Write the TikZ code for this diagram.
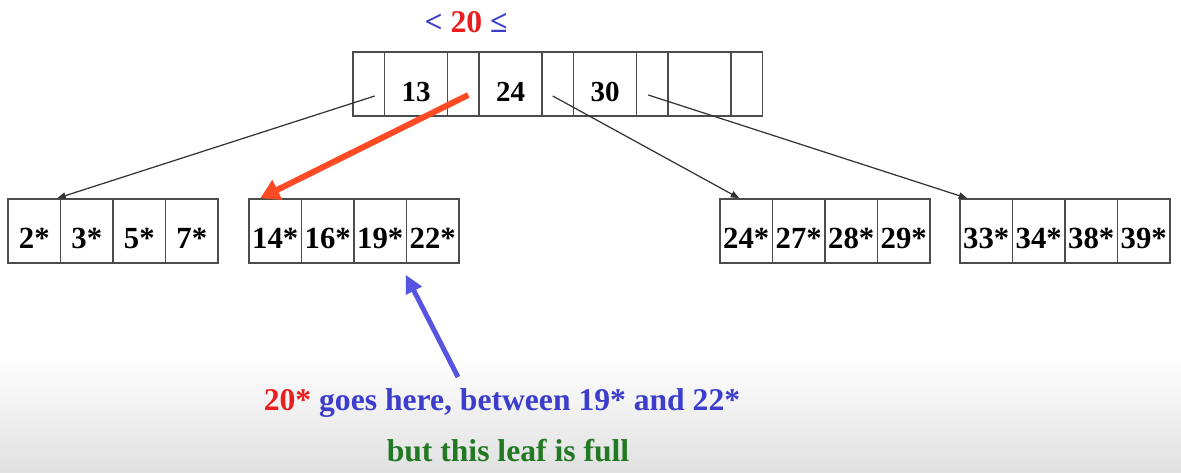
\documentclass[tikz,border=0pt]{standalone}
\usepackage{fontspec}
\setmainfont{Liberation Serif}
\definecolor{keyblue}{RGB}{60,60,205}
\definecolor{keyred}{RGB}{235,30,30}
\definecolor{keygreen}{RGB}{35,120,35}
\definecolor{insorange}{RGB}{255,75,35}
\definecolor{insblue}{RGB}{85,85,225}
\usetikzlibrary{arrows.meta, calc}

\begin{document}
\begin{tikzpicture}[
      x=0.02cm, y=-0.02cm,
      cell/.style={
          draw=black!70,
          line width=0.85pt,
          minimum height=1.28cm,
          inner sep=0pt,
          text height=0.72cm,
          text depth=0pt,
          font=\fontsize{16.5}{20}\selectfont\bfseries
        },
      ptrcell/.style={cell, minimum width=0.63cm},
      keycell/.style={cell, minimum width=1.26cm},
      leafcell/.style={cell, minimum width=1.05cm, font=\fontsize{17.5}{21}\selectfont\bfseries},
      ptr/.style={-{Triangle[length=0.17cm, width=0.13cm]}, black!80, line width=0.7pt},
      insert/.style={-{Triangle[length=0.38cm, width=0.42cm]}, insorange, line width=3.4pt},
      pointer/.style={-{Triangle[length=0.36cm, width=0.34cm]}, insblue, line width=2.8pt},
      msg/.style={font=\fontsize{18}{22}\selectfont\bfseries}
    ]
    \useasboundingbox (0,0) rectangle (1181,473);
    \fill[white] (0,0) rectangle (1181,473);
    \shade[top color=white, bottom color=black!12] (0,355) rectangle (1181,473);

    % root node
    \foreach \i in {0,...,4}
      \node[ptrcell] (rp\i) at ({368.75+94.5*\i},84) {};
    \foreach \t [count=\i] in {13,24,30,{}}
      \node[keycell] (rk\i) at ({321.5+94.5*\i},84) {\t};

    \node[msg] (range) at (466,22) {\textcolor{keyblue}{<} \textcolor{keyred}{20} \textcolor{keyblue}{≤}};

    % leaves
    \foreach \nm/\lx/\keys in {la/8/{2*,3*,5*,7*}, lb/249/{14*,16*,19*,22*},
                               lc/720/{24*,27*,28*,29*}, ld/960/{33*,34*,38*,39*}}
      \foreach \k [count=\i] in \keys
        \node[leafcell] (\nm\i) at ({\lx+52.5*(\i-0.5)},231) {\k};

    \draw[ptr] ($(rp0.center)+(6,12)$) -- ($(la1.north east)+(-4,0)$);
    \draw[insert] ($(rp1.center)+(5,11)$) -- ($(lb1.north west)+(12,0)$);
    \draw[ptr] ($(rp2.center)+(-5,12)$) -- ($(lc1.north west)+(20,0)$);
    \draw[ptr] ($(rp3.center)+(-4,11)$) -- ($(ld1.north west)+(8,0)$);

    \coordinate (src) at (458,377);
    \draw[pointer] (src) -- ($(lb4.south west)+(0,11)$);

    \node[msg] (line1) at (502,403) {\textcolor{keyred}{20*} \textcolor{keyblue}{goes here, between 19* and 22*}};
    \node[msg, text=keygreen] (line2) at (508,451) {but this leaf is full};
  \end{tikzpicture}
\end{document}
